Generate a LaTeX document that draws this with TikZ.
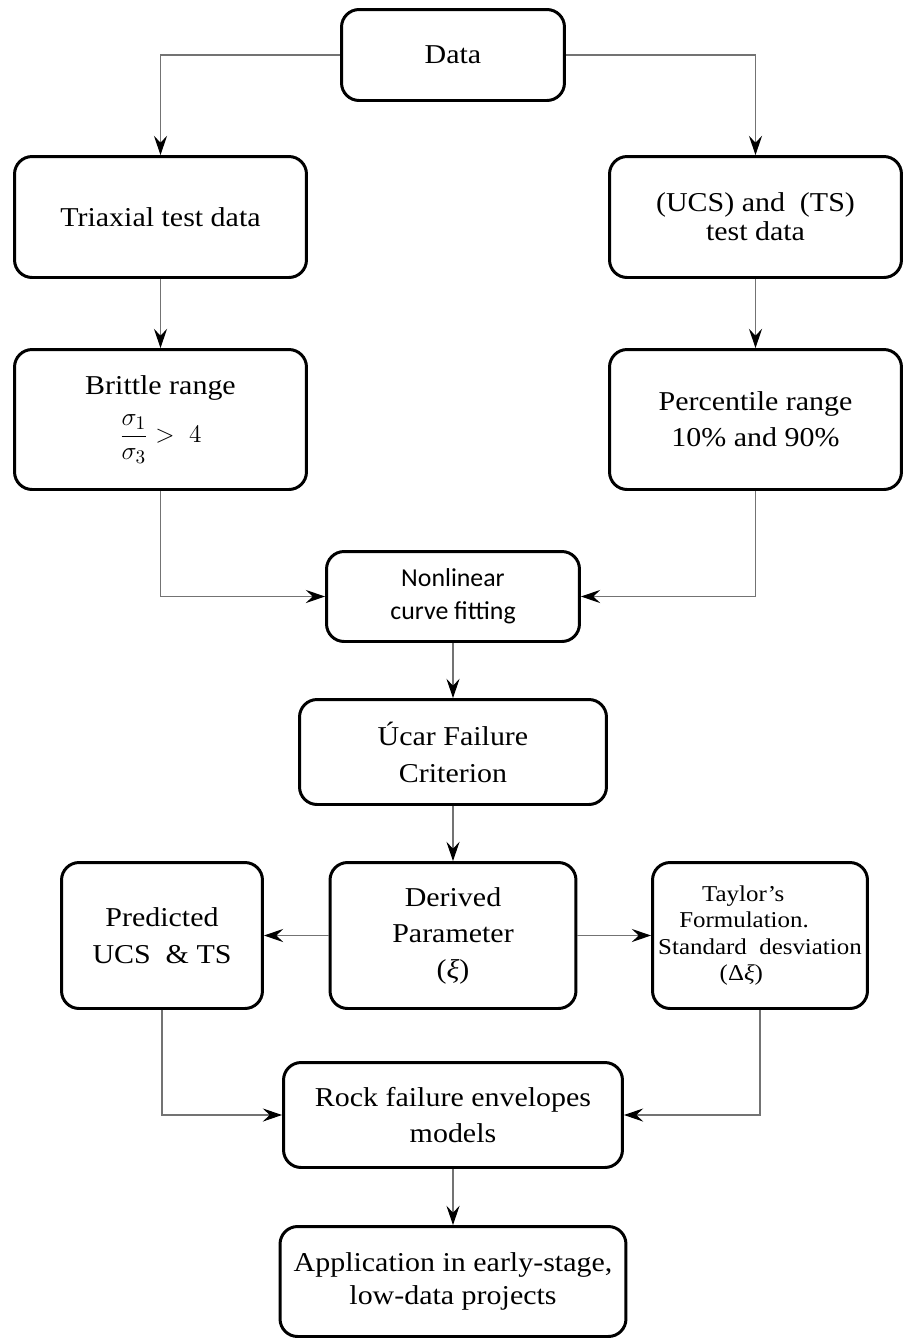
\documentclass[tikz,border=0pt]{standalone}
\usepackage{amsmath}
\usepackage{fontspec}
\setmainfont{Liberation Serif}[FakeStretch=1.1]
\newfontfamily\calfont{Carlito}
\usetikzlibrary{arrows.meta}
\begin{document}
\begin{tikzpicture}[x=0.02cm,y=-0.02cm,
    box/.style={draw,line width=1.7pt,rounded corners=10pt,align=center,inner sep=2pt,
        font=\fontsize{15.5}{20.5}\selectfont},
    sz/.style 2 args={minimum width=#1cm,minimum height=#2cm},
    link/.style={draw=black!55,line width=0.6pt,-{Stealth[length=11pt,width=7.5pt,inset=4pt,black]}}]
    \useasboundingbox (0,0) rectangle (906,1343);
    \node[box,sz={4.46}{1.82}] (data) at (453,55) {Data};
    \node[box,sz={5.84}{2.42}] (triax) at (160.5,217) {Triaxial test data};
    \node[box,sz={5.84}{2.42},font=\fontsize{15.5}{16.5}\selectfont] (ucs) at (755.5,217) {(UCS) and\ \ (TS)\\test data};
    \node[box,sz={5.84}{2.80}] (brittle) at (160.5,419.5) {Brittle range\\[7pt]$\dfrac{\sigma_1}{\sigma_3} >\ 4$};
    \node[box,sz={5.84}{2.80}] (pct) at (755.5,419.5) {Percentile range\\10\% and 90\%};
    \node[box,sz={5.06}{1.80},font=\calfont\fontsize{14.7}{18.7}\selectfont] (fit) at (453,596.5) {Nonlinear\\curve fitting};
    \node[box,sz={6.14}{2.10},font=\fontsize{15.5}{21}\selectfont] (ucar) at (453,752) {Úcar Failure\\Criterion};
    \node[box,sz={4.02}{2.92},font=\fontsize{15.5}{21}\selectfont] (pred) at (162,935.5) {Predicted\\UCS\ \ \& TS};
    \node[box,sz={4.92}{2.92}] (deriv) at (453,935.5) {Derived\\Parameter\\(\textit{ξ})};
    \node[box,sz={4.30}{2.92},align=left,font=\fontsize{12.9}{15}\selectfont] (taylor) at (760,935.5)
        {\hspace*{25pt}Taylor’s\\\hspace*{12pt}Formulation.\\Standard\ \ desviation\\\hspace*{35pt}(Δ\textit{ξ})};
    \node[box,sz={6.78}{2.10},font=\fontsize{15.5}{21}\selectfont] (rock) at (453,1115) {Rock failure envelopes\\models};
    \node[box,sz={6.92}{2.20},font=\fontsize{15.5}{19}\selectfont] (app) at (453,1281.5) {Application in early-stage,\\low-data projects};
    \draw[link] (data.west) -| (triax.north);
    \draw[link] (data.east) -| (ucs.north);
    \draw[link] (triax) -- (brittle);
    \draw[link] (ucs) -- (pct);
    \draw[link] (brittle.south) |- (fit.west);
    \draw[link] (pct.south) |- (fit.east);
    \draw[link] (fit) -- (ucar);
    \draw[link] (ucar) -- (deriv);
    \draw[link] (deriv) -- (pred);
    \draw[link] (deriv) -- (taylor);
    \draw[link] (pred.south) |- (rock.west);
    \draw[link] (taylor.south) |- (rock.east);
    \draw[link] (rock) -- (app);
\end{tikzpicture}
\end{document}
